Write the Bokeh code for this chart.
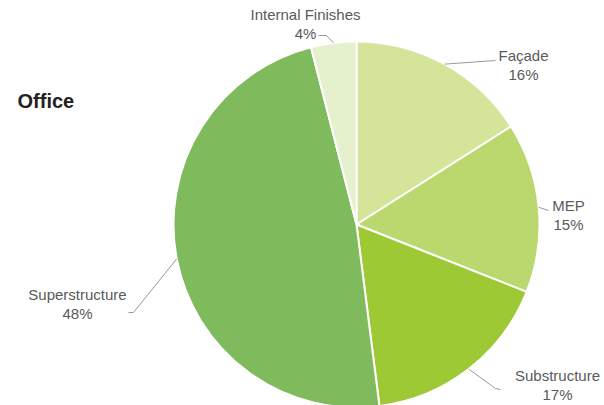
import numpy as np
from bokeh.plotting import figure
from bokeh.models import Range1d, ColumnDataSource
from bokeh.core.properties import value
from bokeh.embed import file_html
from bokeh.resources import INLINE

# ---- data ----
title = "Office"
categories = ["Façade", "MEP", "Substructure", "Superstructure", "Internal Finishes"]
shares = [16, 15, 17, 48, 4]

# ---- style / layout ----
colors = ["#d4e499", "#bad86e", "#9dc934", "#7fba5c", "#e5f1cc"]
W, H = 604, 405
OX, OY = 0, 0


def X(px):
    return px - OX


def Y(py):
    return H - (py - OY)


cx, cy, R = X(356), Y(224), 183
# label anchor (pixel) for name line; pct line sits 19px below
label_pos = [(523, 55), (568, 205), (557, 375), (77, 294), (305, 14)]
# leader bends (pixel coordinates) after the slice-edge point
leader_bends = [
    [(495, 60)],
    [(548, 210)],
    [(495, 388), (500, 389)],
    [(133, 312), (128, 312)],
    [(326, 35), (318, 35)],
]

p = figure(width=W, height=H, x_range=Range1d(0, W), y_range=Range1d(0, H),
           output_backend="svg", toolbar_location=None, min_border=0)
p.axis.visible = False
p.grid.visible = False
p.outline_line_color = None
p.background_fill_color = "white"
p.border_fill_color = "white"

fr = np.array(shares, dtype=float) / np.sum(shares)
cum = np.concatenate([[0], np.cumsum(fr)])
start = np.pi / 2 - 2 * np.pi * cum[:-1]
end = np.pi / 2 - 2 * np.pi * cum[1:]
mid = (start + end) / 2

src = ColumnDataSource(dict(start=start, end=end, color=colors, cat=categories))
p.wedge(x=cx, y=cy, radius=R, start_angle="start", end_angle="end",
        direction="clock", fill_color="color", line_color="white",
        line_width=2, source=src)

# leader lines
xs, ys = [], []
for m, bends in zip(mid, leader_bends):
    lx = [cx + R * np.cos(m)] + [X(b[0]) for b in bends]
    ly = [cy + R * np.sin(m)] + [Y(b[1]) for b in bends]
    xs.append(lx)
    ys.append(ly)
p.multi_line(xs=xs, ys=ys, line_color="#9a9a9a", line_width=1)

# labels
lab = ColumnDataSource(dict(
    x=[X(a[0]) for a in label_pos],
    y1=[Y(a[1]) for a in label_pos],
    y2=[Y(a[1] + 19) for a in label_pos],
    name=categories,
    pct=[f"{s}%" for s in shares],
))
for ycol, tcol in (("y1", "name"), ("y2", "pct")):
    p.text(x="x", y=ycol, text=tcol, source=lab, text_align="center",
           text_baseline="middle", text_font=value("Liberation Sans"),
           text_font_size="15px", text_color="#5a5a5a")

p.text(x=[X(17)], y=[Y(100)], text=[title], text_align="left",
       text_baseline="middle", text_font=value("Liberation Sans"),
       text_font_size="20px", text_font_style="bold", text_color="#222222")

open("out.html", "w").write(file_html(p, INLINE))
